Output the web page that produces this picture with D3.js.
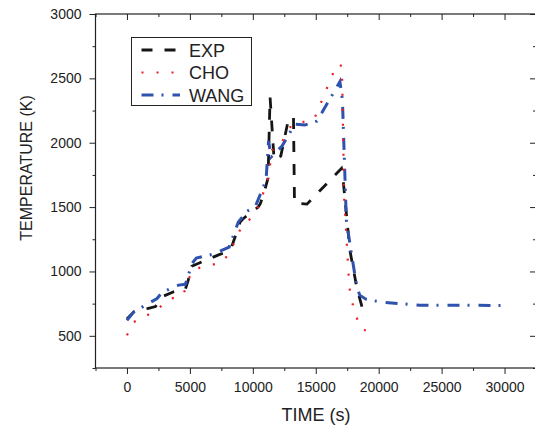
<!DOCTYPE html>
<html>
<head>
<meta charset="utf-8">
<script src="https://cdn.jsdelivr.net/npm/d3@7"></script>
<style>
body{margin:0;background:#fff;}
svg text{font-family:"Liberation Sans",Arial,Helvetica,sans-serif;fill:#222;}
</style>
</head>
<body>
<svg id="chart" width="535" height="425"></svg>
<script>
// series (time in s, temperature in K)
var expTime = [0, 520, 1700, 2260, 2890, 3710, 4640, 4870, 5150, 6090, 7230, 7800, 8280, 8730, 8990, 9260, 9790, 10420, 10580, 10840, 11210, 11370, 11690, 12220, 12820, 13230, 13310, 14300, 17040, 17200, 17710, 18270, 18780];
var expTemp = [630, 684, 714, 727, 808, 842, 862, 932, 1041, 1080, 1127, 1148, 1181, 1308, 1383, 1412, 1451, 1500, 1523, 1593, 1725, 2354, 1865, 1896, 2176, 2203, 1531, 1523, 1800, 1686, 1166, 870, 688];

var choTime = [0, 515, 1620, 2420, 3370, 4480, 4790, 5270, 6380, 7570, 8250, 8680, 9210, 9920, 10520, 11240, 11530, 12080, 13120, 13990, 14860, 16680, 17080, 17260, 17660, 17850, 18500, 19600];
var choTemp = [505, 606, 660, 707, 785, 816, 917, 1018, 1041, 1072, 1158, 1267, 1360, 1418, 1515, 1733, 1943, 1966, 2145, 2161, 2180, 2611, 2596, 1569, 886, 772, 565, 508];

var wangTime = [0, 540, 2390, 2790, 4100, 4640, 5190, 5510, 6880, 8120, 8840, 9550, 10180, 10790, 11050, 11130, 11250, 11450, 12320, 13350, 14140, 15100, 16920, 17120, 17430, 17790, 18270, 18500, 18980, 20170, 23260, 30000];
var wangTemp = [620, 686, 790, 837, 894, 900, 1065, 1104, 1135, 1189, 1383, 1469, 1500, 1645, 1710, 1826, 2013, 1889, 1974, 2145, 2137, 2168, 2475, 2332, 1400, 1166, 878, 816, 785, 762, 738, 736];

var seriesNames = ["EXP", "CHO", "WANG"];
var xMajor = [0, 5000, 10000, 15000, 20000, 25000, 30000];
var xMinor = [-2500, 2500, 7500, 12500, 17500, 22500, 27500, 32500];
var yMajor = [500, 1000, 1500, 2000, 2500, 3000];
var yMinor = [250, 750, 1250, 1750, 2250, 2750];

var plotLeft = 95.5, plotRight = 536, plotTop = 14, plotBottom = 368;

var svg = d3.select("#chart");
var x = d3.scaleLinear().domain([-2500, 32500]).range([plotLeft, plotRight]);
var y = d3.scaleLinear().domain([250, 3000]).range([plotBottom, plotTop]);

var styles = {
	EXP: {color: "#151515", width: 2.8, dash: "11,12"},
	CHO: {color: "#ec1c24", width: 2.2, dash: "2,13"},
	WANG: {color: "#2e52ad", width: 3, dash: "12,8,2,9"}
};

function drawAxis(axis, tx, ty){
	var g = svg.append("g").attr("transform", "translate(" + tx + "," + ty + ")").call(axis);
	g.select(".domain").remove();
	g.selectAll("line").attr("stroke", "#222").attr("stroke-width", 1);
	g.selectAll("text").style("font-size", "14px").attr("fill", "#222");
	return g;
}

// bottom axis with labels
drawAxis(d3.axisBottom(x).tickValues(xMajor).tickSize(6).tickPadding(8).tickFormat(d3.format("d")), 0, plotBottom);
drawAxis(d3.axisBottom(x).tickValues(xMinor).tickSize(3).tickFormat(""), 0, plotBottom);
// top axis, ticks inward
drawAxis(d3.axisTop(x).tickValues(xMajor).tickSize(-6).tickFormat(""), 0, plotTop);
drawAxis(d3.axisTop(x).tickValues(xMinor).tickSize(-3).tickFormat(""), 0, plotTop);
// left axis with labels
drawAxis(d3.axisLeft(y).tickValues(yMajor).tickSize(6).tickPadding(8).tickFormat(d3.format("d")), plotLeft, 0);
drawAxis(d3.axisLeft(y).tickValues(yMinor).tickSize(3).tickFormat(""), plotLeft, 0);
// right axis, ticks inward
drawAxis(d3.axisRight(y).tickValues(yMajor).tickSize(-6).tickFormat(""), plotRight, 0);
drawAxis(d3.axisRight(y).tickValues(yMinor).tickSize(-3).tickFormat(""), plotRight, 0);

// frame
svg.append("rect")
	.attr("x", plotLeft).attr("y", plotTop)
	.attr("width", plotRight - plotLeft).attr("height", plotBottom - plotTop)
	.attr("fill", "none").attr("stroke", "#222").attr("stroke-width", 1.2);

var line = d3.line()
	.x(function(d){ return x(d[0]); })
	.y(function(d){ return y(d[1]); });

function drawSeries(name, times, temps){
	var pts = d3.zip(times, temps);
	svg.append("path")
		.datum(pts)
		.attr("d", line)
		.attr("fill", "none")
		.attr("stroke", styles[name].color)
		.attr("stroke-width", styles[name].width)
		.attr("stroke-dasharray", styles[name].dash);
}

drawSeries("EXP", expTime, expTemp);
drawSeries("WANG", wangTime, wangTemp);
drawSeries("CHO", choTime, choTemp);

// legend
var lg = svg.append("g");
lg.append("rect")
	.attr("x", 131.5).attr("y", 37.5).attr("width", 120).attr("height", 68)
	.attr("fill", "#fff").attr("stroke", "#222").attr("stroke-width", 1);
seriesNames.forEach(function(name, i){
	var cy = 50 + i * 22.5;
	lg.append("line")
		.attr("x1", 141.5).attr("x2", 180).attr("y1", cy).attr("y2", cy)
		.attr("stroke", styles[name].color)
		.attr("stroke-width", styles[name].width)
		.attr("stroke-dasharray", styles[name].dash);
	lg.append("text")
		.attr("x", 189).attr("y", cy + 6.5)
		.style("font-size", "18px")
		.text(name);
});

// axis titles
svg.append("text")
	.attr("x", 316).attr("y", 421)
	.attr("text-anchor", "middle")
	.style("font-size", "18px")
	.text("TIME (s)");
svg.append("text")
	.attr("transform", "translate(32,168) rotate(-90)")
	.attr("text-anchor", "middle")
	.style("font-size", "16px")
	.text("TEMPERATURE (K)");
</script>
</body>
</html>
